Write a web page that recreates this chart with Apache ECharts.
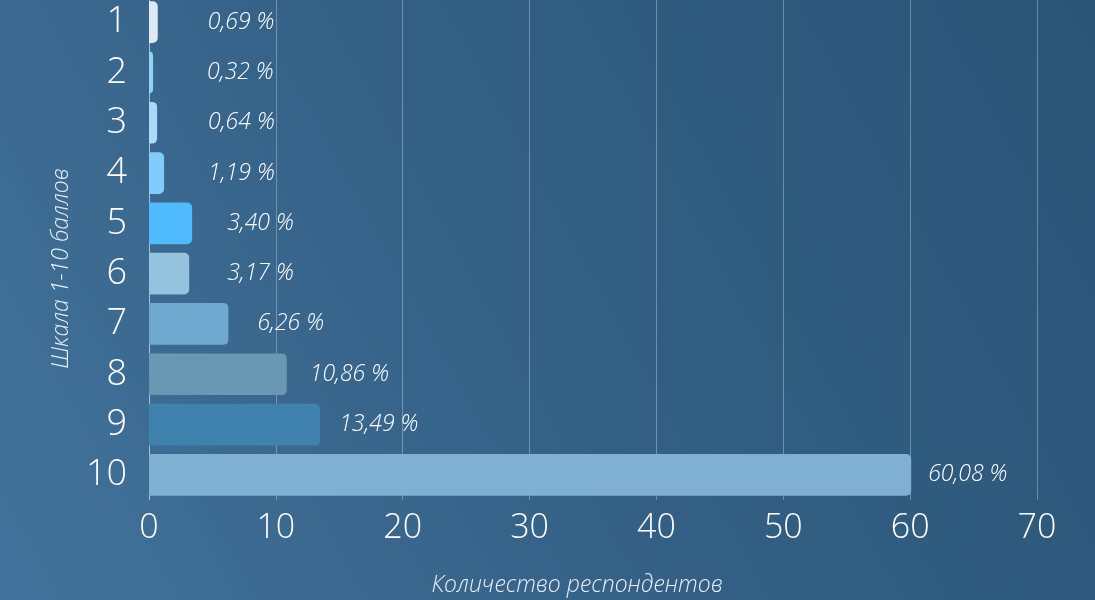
<!DOCTYPE html>
<html><head><meta charset="utf-8">
<script src="https://cdn.jsdelivr.net/npm/echarts@6/dist/echarts.min.js"></script>
<style>html,body{margin:0;padding:0;}#c{width:1095px;height:600px;}</style>
</head><body><div id="c"></div>
<script>
const categories = ['1','2','3','4','5','6','7','8','9','10'];
const values = [0.69, 0.32, 0.64, 1.19, 3.40, 3.17, 6.26, 10.86, 13.49, 60.08];
const valueLabels = ['0,69 %','0,32 %','0,64 %','1,19 %','3,40 %','3,17 %','6,26 %','10,86 %','13,49 %','60,08 %'];
const xTicks = [0,10,20,30,40,50,60,70];
const xName = 'Количество респондентов';
const yName = 'Шкала 1-10 баллов';

const barColors = ['#dde9f3','#92d2f6','#a8dbf8','#80cdfc','#50baff','#95c2dc','#70a9cf','#6a97b1','#3f82ae','#7fafd1'];
const labelGaps = [50,54,51,44,35,38,29,23,19,17];
const FONT = "'Open Sans', sans-serif";

const chart = echarts.init(document.getElementById('c'));
chart.setOption({
  backgroundColor: new echarts.graphic.LinearGradient(0, 1, 1, 0, [
    {offset:0, color:'#42729b'},
    {offset:0.5, color:'#335f84'},
    {offset:1, color:'#2a5577'}
  ]),
  animation: false,
  grid: {left:149, right:58, top:-3, bottom:100, containLabel:false, outerBoundsMode:'none'},
  xAxis: {
    type:'value', min:0, max:70, interval:10,
    name: xName, nameLocation:'middle', nameGap:74,
    nameTextStyle:{color:'#e8eef4', fontSize:23, fontStyle:'italic', fontFamily:FONT, fontWeight:300, padding:[0,32,0,0]},
    axisLine:{show:false}, axisTick:{show:false},
    axisLabel:{color:'#ffffff', fontSize:34, fontFamily:FONT, fontWeight:300, margin:11,
      formatter: v => xTicks.includes(v) ? String(v) : ''},
    splitLine:{show:true, lineStyle:{color:'rgba(255,255,255,0.3)', width:1}}
  },
  yAxis: {
    type:'category', data:categories, inverse:true,
    name: yName, nameLocation:'middle', nameGap:76, nameRotate:90,
    nameTextStyle:{color:'#e8eef4', fontSize:23, fontStyle:'italic', fontFamily:FONT, fontWeight:300, padding:[0,40,0,0]},
    axisLine:{show:true, lineStyle:{color:'rgba(255,255,255,0.4)', width:1}},
    axisTick:{show:false},
    axisLabel:{color:'#ffffff', fontSize:36, fontFamily:FONT, fontWeight:300, margin:22}
  },
  series: [{
    type:'bar',
    barCategoryGap:'17%',
    data: values.map((v,i) => ({
      value:v,
      itemStyle:{color:barColors[i], borderRadius:[0,5,5,0]},
      label:{distance:labelGaps[i]}
    })),
    label:{
      show:true, position:'right', color:'#ffffff', fontSize:23, fontStyle:'italic',
      fontFamily:FONT, fontWeight:300,
      formatter: p => valueLabels[p.dataIndex]
    }
  }]
});
</script></body></html>
